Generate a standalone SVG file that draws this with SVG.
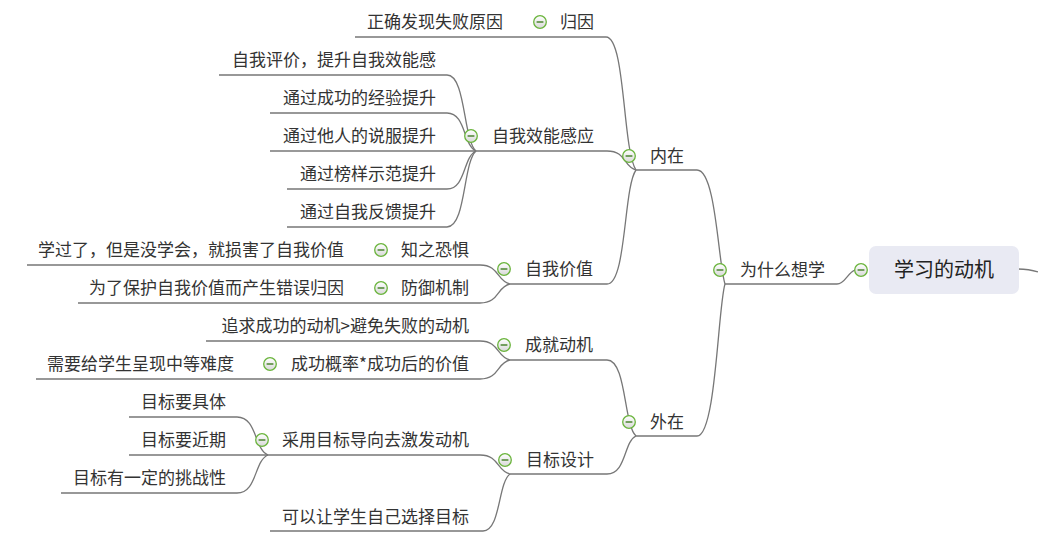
<svg xmlns="http://www.w3.org/2000/svg" width="1038" height="552" viewBox="0 0 1038 552">
<defs>
<linearGradient id="cg" x1="0" y1="0" x2="0" y2="1">
<stop offset="0" stop-color="#ffffff"/>
<stop offset="1" stop-color="#d8d8d8"/>
</linearGradient>
<g id="tog">
<circle r="6.3" fill="url(#cg)" stroke="#6ab43c" stroke-width="1.3"/>
<line x1="-3.4" y1="0" x2="3.4" y2="0" stroke="#3f7d22" stroke-width="1.4"/>
</g>
</defs>
<style>
text{font-family:"Noto Sans CJK SC","Noto Sans",sans-serif;font-size:17px;fill:#333}
.e{text-anchor:end}
.root{font-size:20px;fill:#222;text-anchor:middle}
.c path{fill:none;stroke:#777;stroke-width:1.3}
</style>
<rect width="1038" height="552" fill="#ffffff"/>
<g class="c" id="connectors">
<path d="M355,37 H606 C625.5,37 622.5,150 636,170"/>
<path d="M476,151 H607 C626.5,151 623.5,167.2 636,170"/>
<path d="M510,284 H607 C626.5,284 623.5,187.1 636,170"/>
<path d="M510,360 H607 C626.5,360 623.5,424.6 636,436"/>
<path d="M510,474 H607 C626.5,474 623.5,441.7 636,436"/>
<path d="M636,170 H697 C716,170 718,262 725,284"/>
<path d="M636,436 H697 C716,436 718,306 725,284"/>
<path d="M725,284 H837 C845,284 848,272 855,270"/>
<path d="M1018,269 C1028,269 1032,270 1038,272"/>
<path d="M219,75 H447 C465.9,75 463,139.6 476,151"/>
<path d="M270,113 H447 C465.9,113 463,145.3 476,151"/>
<path d="M270,151 H476"/>
<path d="M287,189 H447 C465.9,189 463,156.7 476,151"/>
<path d="M287,227 H447 C465.9,227 463,162.4 476,151"/>
<path d="M27,265 H480 C499.5,265 496.5,281.2 510,284"/>
<path d="M78,303 H480 C499.5,303 496.5,286.9 510,284"/>
<path d="M206,341 H480 C499.5,341 496.5,357.2 510,360"/>
<path d="M36,379 H480 C499.5,379 496.5,362.9 510,360"/>
<path d="M129,455 H480 C499.5,455 496.5,471.2 510,474"/>
<path d="M270,531 H483 C500.6,531 497.9,482.6 510,474"/>
<path d="M129,417 H237 C257.2,417 254,449.3 268,455"/>
<path d="M61,493 H237 C257.2,493 254,460.7 268,455"/>
</g>
<g id="root">
<rect x="869" y="246" width="150" height="48" rx="7" fill="#e9eaf3"/>
<text class="root" x="944" y="277">学习的动机</text>
<use href="#tog" x="861" y="270"/>
</g>
<g id="n-why"><text x="740" y="276">为什么想学</text><use href="#tog" x="720" y="270"/></g>
<g id="n-inner"><text x="650" y="162">内在</text><use href="#tog" x="629" y="156"/></g>
<g id="n-outer"><text x="650" y="428">外在</text><use href="#tog" x="629" y="422"/></g>
<g id="n-attr"><text x="560" y="28">归因</text><use href="#tog" x="540" y="22"/></g>
<g id="n-attr1"><text class="e" x="503" y="28">正确发现失败原因</text></g>
<g id="n-eff"><text x="492" y="142">自我效能感应</text><use href="#tog" x="471" y="136"/></g>
<g id="n-eff1"><text class="e" x="436" y="66">自我评价，提升自我效能感</text></g>
<g id="n-eff2"><text class="e" x="436" y="104">通过成功的经验提升</text></g>
<g id="n-eff3"><text class="e" x="436" y="142">通过他人的说服提升</text></g>
<g id="n-eff4"><text class="e" x="436" y="180">通过榜样示范提升</text></g>
<g id="n-eff5"><text class="e" x="436" y="218">通过自我反馈提升</text></g>
<g id="n-worth"><text x="525" y="275">自我价值</text><use href="#tog" x="504" y="269"/></g>
<g id="n-fear"><text x="401" y="256">知之恐惧</text><use href="#tog" x="381" y="250"/></g>
<g id="n-fear1"><text class="e" x="344" y="256">学过了，但是没学会，就损害了自我价值</text></g>
<g id="n-def"><text x="401" y="294">防御机制</text><use href="#tog" x="381" y="288"/></g>
<g id="n-def1"><text class="e" x="344" y="294">为了保护自我价值而产生错误归因</text></g>
<g id="n-ach"><text x="525" y="351">成就动机</text><use href="#tog" x="504" y="345"/></g>
<g id="n-ach1"><text class="e" x="469" y="332">追求成功的动机&gt;避免失败的动机</text></g>
<g id="n-ach2"><text class="e" x="469" y="370">成功概率*成功后的价值</text><use href="#tog" x="270" y="364"/></g>
<g id="n-ach21"><text class="e" x="234" y="370">需要给学生呈现中等难度</text></g>
<g id="n-goal"><text x="526" y="466">目标设计</text><use href="#tog" x="505" y="460"/></g>
<g id="n-goal1"><text class="e" x="469" y="446">采用目标导向去激发动机</text><use href="#tog" x="262" y="440"/></g>
<g id="n-goal11"><text class="e" x="226" y="408">目标要具体</text></g>
<g id="n-goal12"><text class="e" x="226" y="446">目标要近期</text></g>
<g id="n-goal13"><text class="e" x="226" y="484">目标有一定的挑战性</text></g>
<g id="n-goal2"><text class="e" x="469" y="523">可以让学生自己选择目标</text></g>
</svg>
